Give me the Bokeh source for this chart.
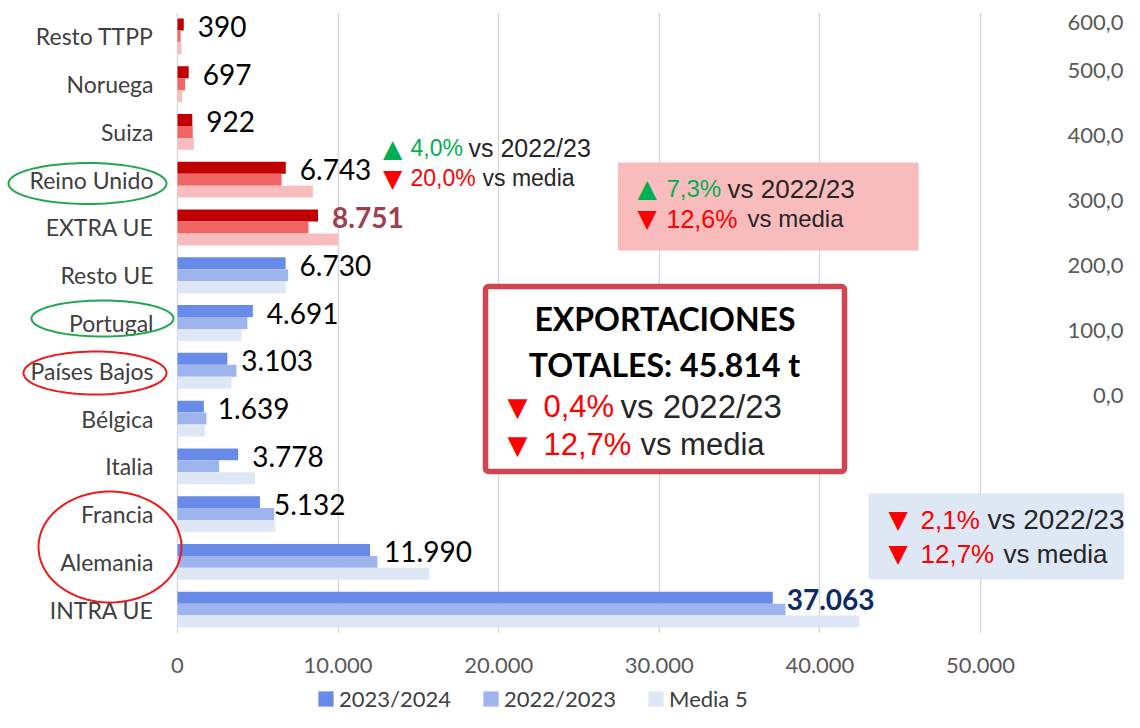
import numpy as np
from bokeh.plotting import figure
from bokeh.layouts import column
from bokeh.models import (ColumnDataSource, FactorRange, Range1d, FixedTicker, Label,
                          BoxAnnotation, PolyAnnotation, Legend, LegendItem)
from bokeh.transform import dodge
from bokeh.core.properties import value
from bokeh.embed import file_html
from bokeh.resources import INLINE

# ---------------- data (top to bottom as shown) ----------------
categories = ["Resto TTPP", "Noruega", "Suiza", "Reino Unido", "EXTRA UE", "Resto UE",
              "Portugal", "Países Bajos", "Bélgica", "Italia", "Francia", "Alemania", "INTRA UE"]
zone = ["EXTRA", "EXTRA", "EXTRA", "EXTRA", "EXTRA", "INTRA", "INTRA",
        "INTRA", "INTRA", "INTRA", "INTRA", "INTRA", "INTRA"]
v_2023_24 = [390, 697, 922, 6743, 8751, 6730, 4691, 3103, 1639, 3778, 5132, 11990, 37063]
v_2022_23 = [190, 470, 950, 6484, 8156, 6890, 4355, 3670, 1800, 2590, 6020, 12450, 37858]
v_media5 = [250, 290, 1020, 8430, 10012, 6740, 3980, 3360, 1700, 4815, 6080, 15680, 42455]
series_names = ["2023/2024", "2022/2023", "Media 5"]
totals = ["EXTRA UE", "INTRA UE"]

x_ticks = [0, 10000, 20000, 30000, 40000, 50000]
x_tick_labels = ["0", "10.000", "20.000", "30.000", "40.000", "50.000"]
sec_ticks = [0, 100, 200, 300, 400, 500, 600]
sec_tick_labels = ["0,0", "100,0", "200,0", "300,0", "400,0", "500,0", "600,0"]

# ---------------- styles ----------------
PAL = {"INTRA": ["#688AE8", "#9DB5EC", "#DDE7F5"],
       "EXTRA": ["#C00000", "#F26565", "#FABDBD"]}
TOTAL_COLOR = {"EXTRA UE": "#A13D4C", "INTRA UE": "#0E2A69"}

W, H = 1124, 712
H_LEG = 26
H_MAIN = H - H_LEG
ZERO_PX, FRAME_T, FRAME_B = 177, 12, 633   # canvas pixels
PXU = 0.01606                               # px per tonne
ROW = (FRAME_B - FRAME_T) / len(categories)


def xd(px):
    return (px - ZERO_PX) / PXU


def yd(py):
    return (FRAME_B - py) / ROW


def fmt(v):
    return f"{v:,}".replace(",", ".")


src = ColumnDataSource(dict(
    cat=categories,
    v1=v_2023_24, v2=v_2022_23, v3=v_media5,
    c1=[PAL[z][0] for z in zone], c2=[PAL[z][1] for z in zone], c3=[PAL[z][2] for z in zone],
    lab=[fmt(v) for v in v_2023_24],
    lstyle=["bold" if c in totals else "normal" for c in categories],
    lcolor=[TOTAL_COLOR.get(c, "#000000") for c in categories],
))

p = figure(width=W, height=H_MAIN, output_backend="svg", toolbar_location=None,
           y_range=FactorRange(factors=list(reversed(categories))),
           x_range=Range1d(xd(0), xd(W)), y_axis_location=None,
           min_border_left=0, min_border_top=FRAME_T,
           min_border_bottom=H_MAIN - FRAME_B, min_border_right=0)
p.outline_line_color = None
p.background_fill_color = "white"
p.border_fill_color = "white"

offsets = [0.25, 0.0, -0.25]
for i, off in enumerate(offsets):
    p.hbar(y=dodge("cat", off, range=p.y_range), left=0, right=f"v{i+1}", height=0.25,
           fill_color=f"c{i+1}", line_color=None, source=src)

# value labels
p.text(x="v1", y=dodge("cat", 0.25, range=p.y_range), text="lab", source=src,
       x_offset=14, y_offset=2, text_baseline="middle", text_align="left",
       text_font=value("Lato"), text_font_size="28px",
       text_font_style="lstyle", text_color="lcolor")

# category labels (left of the zero line)
p.text(x=0, y="cat", text="cat", source=src, x_offset=-24, text_align="right",
       text_baseline="middle", text_font=value("Lato"), text_font_size="23px",
       text_color="#404040")

# x axis
p.xaxis.ticker = FixedTicker(ticks=x_ticks)
p.xaxis.major_label_overrides = dict(zip(x_ticks, x_tick_labels))
ax = p.xaxis[0]
ax.axis_line_color = None
ax.major_tick_line_color = None
ax.minor_tick_line_color = None
ax.major_tick_out = 0
ax.major_tick_in = 0
ax.major_label_text_font = "Lato"
ax.major_label_text_font_size = "22px"
ax.major_label_text_color = "#595959"
ax.major_label_standoff = 24
p.xgrid.ticker = FixedTicker(ticks=x_ticks)
p.xgrid.grid_line_color = "#D9D9D9"
p.xgrid.grid_line_width = 1.5
p.ygrid.grid_line_color = None

# secondary axis labels at the right edge
for t, s in zip(sec_ticks, sec_tick_labels):
    py = max(395 - 0.65 * t, 22)
    p.add_layout(Label(x=xd(1123), y=yd(py), text=s, text_font="Lato",
                       text_font_size="22px", text_color="#595959",
                       text_align="right", text_baseline="middle"))


# ellipses around labels
def ellipse(cx, cy, w, h, color):
    t = np.linspace(0, 2 * np.pi, 90)
    xs = [xd(cx + w / 2 * np.cos(a)) for a in t]
    ys = [yd(cy + h / 2 * np.sin(a)) for a in t]
    p.add_layout(PolyAnnotation(xs=xs, ys=ys, fill_color=None, fill_alpha=0,
                                line_color=color, line_alpha=1, line_width=2))


GREEN_C, RED_C = "#22A84C", "#F01818"
ellipse(87, 183, 158, 41, GREEN_C)
ellipse(102, 318, 142, 36, GREEN_C)
ellipse(94.5, 372.5, 143, 43, RED_C)
ellipse(109.5, 546.5, 143, 111, RED_C)

# boxes
p.add_layout(BoxAnnotation(left=xd(617.5), right=xd(918), top=yd(162), bottom=yd(250),
                           fill_color="#F8BCBC", fill_alpha=1, line_color=None))
p.add_layout(BoxAnnotation(left=xd(868), right=xd(1140), top=yd(493), bottom=yd(579),
                           fill_color="#DEE8F5", fill_alpha=1, line_color=None))
p.add_layout(BoxAnnotation(left=xd(485), right=xd(844), top=yd(286), bottom=yd(471),
                           fill_color="white", fill_alpha=1, line_color="#D0454F",
                           line_alpha=1, line_width=5.5, border_radius=3))

UP_C, DOWN_C, TXT_C = "#00B050", "#FF0000", "#262626"


def lab(text, px, py, size, color, font="Liberation Sans", align="left", style="normal"):
    p.add_layout(Label(x=xd(px), y=yd(py), text=text, text_font=font,
                       text_font_size=f"{size}px", text_color=color, text_align=align,
                       text_baseline="middle", text_font_style=style))


def tri(up, px, py, size=25):
    lab("▲" if up else "▼", px, py, size, UP_C if up else DOWN_C, font="DejaVu Sans")


# Reino Unido note
tri(True, 382.5, 147.5); lab("4,0%", 410, 147.5, 23, UP_C); lab("vs 2022/23", 468, 147.5, 25, TXT_C)
tri(False, 382.5, 177.5); lab("20,0%", 410, 177.5, 23, DOWN_C); lab("vs media", 482, 177.5, 23, TXT_C)
# EXTRA UE box
tri(True, 637, 188); lab("7,3%", 666, 188, 24, UP_C); lab("vs 2022/23", 727, 188, 26, TXT_C)
tri(False, 637, 218); lab("12,6%", 666, 218, 25, DOWN_C); lab("vs media", 747, 218, 24, TXT_C)
# INTRA UE box
tri(False, 888, 519); lab("2,1%", 920, 519, 26, DOWN_C); lab("vs 2022/23", 987, 519, 28, TXT_C)
tri(False, 888, 553); lab("12,7%", 920, 553, 26, DOWN_C); lab("vs media", 1003, 553, 26, TXT_C)
# totals box
lab("EXPORTACIONES", 664.5, 317.5, 32, "#000000", font="Lato", align="center", style="bold")
lab("TOTALES: 45.814 t", 664, 364, 32, "#000000", font="Lato", align="center", style="bold")
tri(False, 507, 406, 26); lab("0,4%", 543, 406, 31, DOWN_C); lab("vs 2022/23", 620, 406, 33, TXT_C)
tri(False, 507, 444, 26); lab("12,7%", 543, 444, 31, DOWN_C); lab("vs media", 640, 444, 31, TXT_C)

# ---------------- legend strip under the chart ----------------
lf = figure(width=W, height=H_LEG, output_backend="svg", toolbar_location=None,
            x_range=Range1d(0, 1), y_range=Range1d(0, 1),
            x_axis_location=None, y_axis_location=None,
            min_border=0, min_border_left=0, min_border_right=0,
            min_border_top=0, min_border_bottom=0)
lf.outline_line_color = None
lf.xgrid.visible = False
lf.ygrid.visible = False
# series swatches (kept outside the strip's visible range; only the legend shows them)
intra_idx = categories.index("INTRA UE")
swatch = ColumnDataSource(dict(y=[-5], r=[v_2023_24[intra_idx]]))
leg_rends = [lf.hbar(y="y", right="r", height=0.5, fill_color=c, line_color=None, source=swatch)
             for c in PAL["INTRA"]]
leg = Legend(items=[LegendItem(label=n, renderers=[r]) for n, r in zip(series_names, leg_rends)],
             orientation="horizontal", location=(316, 0),
             label_text_font="Lato", label_text_font_size="22px", label_text_color="#404040",
             glyph_width=19, glyph_height=19, label_standoff=4, spacing=30,
             padding=0, margin=0, border_line_color=None, background_fill_alpha=0,
             label_height=H_LEG)
lf.add_layout(leg)

open("out.html", "w").write(file_html(column(p, lf, spacing=0), INLINE))
